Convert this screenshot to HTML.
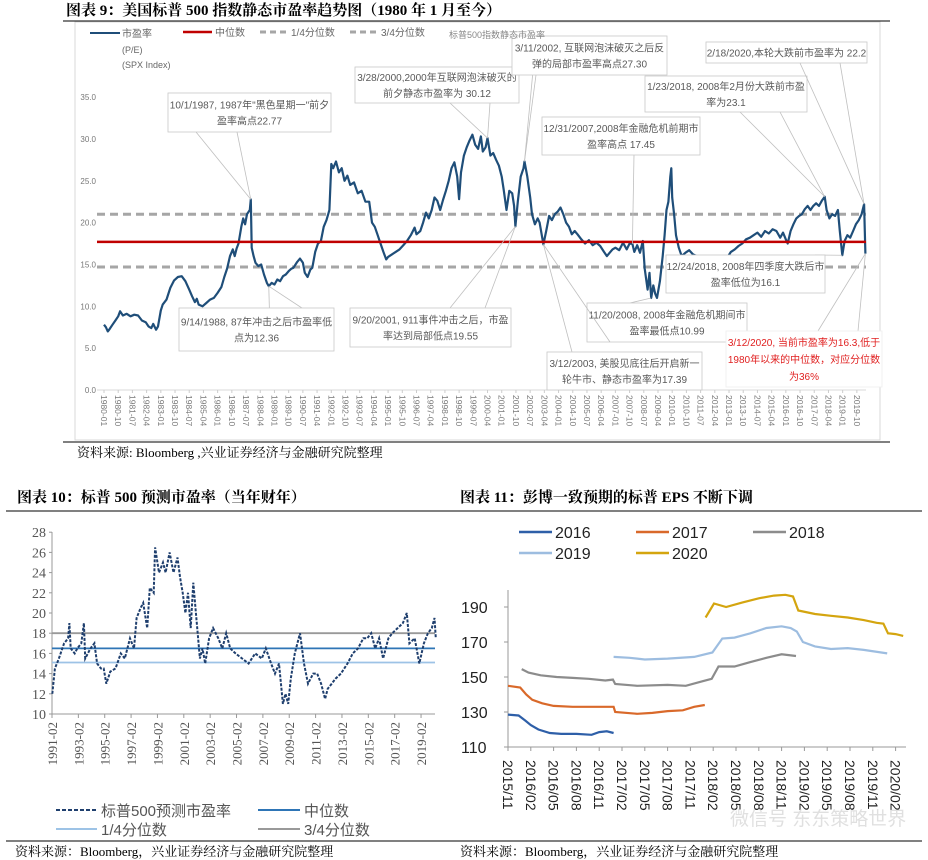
<!DOCTYPE html>
<html><head><meta charset="utf-8">
<style>
html,body{margin:0;padding:0;background:#fff;}
svg{display:block;}
.t{font-family:"Liberation Serif","Noto Serif CJK SC",serif;font-weight:bold;font-size:15px;fill:#000;}
.s{font-family:"Liberation Sans","Noto Sans CJK SC",sans-serif;}
.sr{font-family:"Liberation Serif","Noto Serif CJK SC",serif;}
</style></head>
<body>
<svg id="svg" width="928" height="860" viewBox="0 0 928 860" xmlns="http://www.w3.org/2000/svg">
<rect width="928" height="860" fill="#fff"/>
<text class="t" x="66" y="15">图表 9：美国标普 500 指数静态市盈率趋势图（1980 年 1 月至今）</text>
<line x1="63" y1="21" x2="890" y2="21" stroke="#000" stroke-width="1"/>
<rect x="75" y="22" width="805" height="418" fill="none" stroke="#d9d9d9" stroke-width="1"/>
<line x1="63" y1="442" x2="890" y2="442" stroke="#000" stroke-width="1"/>
<text class="sr" x="77" y="457" font-size="13">资料来源: Bloomberg ,兴业证券经济与金融研究院整理</text>
<g id="top"></g>
<g class="s" font-size="10" fill="#666">
 <line x1="90" y1="33" x2="120" y2="33" stroke="#1f4e79" stroke-width="2"/><text x="122" y="37">市盈率</text>
 <text x="122" y="53" font-size="9">(P/E)</text><text x="122" y="68" font-size="9">(SPX Index)</text>
 <line x1="183" y1="32" x2="212" y2="32" stroke="#c00000" stroke-width="2.5"/><text x="215" y="36">中位数</text>
 <line x1="260" y1="32" x2="288" y2="32" stroke="#a6a6a6" stroke-width="3" stroke-dasharray="6,4"/><text x="291" y="36">1/4分位数</text>
 <line x1="350" y1="32" x2="378" y2="32" stroke="#a6a6a6" stroke-width="3" stroke-dasharray="6,4"/><text x="381" y="36">3/4分位数</text>
 <text x="449" y="38" font-size="9" fill="#888">标普500指数静态市盈率</text>
</g>
<text class="t" x="17" y="502">图表 10：标普 500 预测市盈率（当年财年）</text>
<line x1="6" y1="511" x2="460" y2="511" stroke="#000"/>
<g id="bl"></g>
<g class="s" font-size="15" fill="#555">
 <line x1="56" y1="810" x2="97" y2="810" stroke="#1f3f6e" stroke-width="2" stroke-dasharray="4,2"/><text x="101" y="816">标普500预测市盈率</text>
 <line x1="258" y1="810" x2="300" y2="810" stroke="#2e75b6" stroke-width="2"/><text x="304" y="816">中位数</text>
 <line x1="56" y1="829" x2="97" y2="829" stroke="#9dc3e6" stroke-width="2"/><text x="101" y="835">1/4分位数</text>
 <line x1="258" y1="829" x2="300" y2="829" stroke="#999" stroke-width="2"/><text x="304" y="835">3/4分位数</text>
</g>
<line x1="6" y1="841" x2="460" y2="841" stroke="#000"/>
<text class="sr" x="15" y="856" font-size="13">资料来源：Bloomberg，兴业证券经济与金融研究院整理</text>
<text class="t" x="460" y="502">图表 11：彭博一致预期的标普 EPS 不断下调</text>
<line x1="460" y1="511" x2="922" y2="511" stroke="#000"/>
<g id="br"></g>
<line x1="460" y1="841" x2="922" y2="841" stroke="#000"/>
<text class="sr" x="460" y="856" font-size="13">资料来源：Bloomberg，兴业证券经济与金融研究院整理</text>
<text class="s" x="730" y="825" font-size="19" fill="#ccc" opacity="0.6">微信号 东东策略世界</text>
</svg>
<script>
const NS="http://www.w3.org/2000/svg";
function mk(p,tag,a,txt){const e=document.createElementNS(NS,tag);for(const k in a)e.setAttribute(k,a[k]);if(txt!==undefined)e.textContent=txt;p.appendChild(e);return e;}

const peDates=[1980.0,1980.1,1980.2,1980.3,1980.45,1980.6,1980.75,1980.85,1981.0,1981.2,1981.4,1981.6,1981.8,1982.0,1982.2,1982.35,1982.5,1982.6,1982.75,1982.85,1983.0,1983.1,1983.3,1983.5,1983.7,1983.9,1984.1,1984.3,1984.5,1984.65,1984.8,1984.9,1985.0,1985.2,1985.4,1985.6,1985.8,1986.0,1986.2,1986.35,1986.5,1986.65,1986.8,1986.9,1987.0,1987.1,1987.25,1987.35,1987.45,1987.55,1987.7,1987.75,1987.8,1987.9,1988.0,1988.15,1988.3,1988.45,1988.6,1988.7,1988.85,1989.0,1989.15,1989.3,1989.45,1989.6,1989.75,1989.9,1990.0,1990.2,1990.35,1990.5,1990.6,1990.75,1990.9,1991.0,1991.15,1991.3,1991.45,1991.6,1991.75,1991.9,1992.0,1992.1,1992.25,1992.4,1992.55,1992.7,1992.85,1993.0,1993.2,1993.4,1993.6,1993.8,1994.0,1994.15,1994.3,1994.45,1994.6,1994.75,1994.9,1995.0,1995.2,1995.4,1995.6,1995.8,1996.0,1996.2,1996.4,1996.5,1996.7,1996.85,1997.0,1997.15,1997.3,1997.45,1997.6,1997.75,1997.9,1998.05,1998.2,1998.35,1998.5,1998.65,1998.75,1998.85,1999.0,1999.15,1999.3,1999.45,1999.6,1999.75,1999.9,2000.0,2000.15,2000.25,2000.4,2000.55,2000.7,2000.85,2001.0,2001.1,2001.25,2001.4,2001.55,2001.65,2001.72,2001.85,2002.0,2002.15,2002.2,2002.35,2002.5,2002.6,2002.75,2002.9,2003.0,2003.2,2003.35,2003.5,2003.65,2003.8,2003.95,2004.1,2004.25,2004.4,2004.55,2004.7,2004.85,2005.0,2005.2,2005.4,2005.6,2005.8,2006.0,2006.2,2006.4,2006.55,2006.7,2006.85,2007.0,2007.2,2007.4,2007.6,2007.75,2007.9,2008.0,2008.15,2008.3,2008.45,2008.55,2008.7,2008.8,2008.89,2009.0,2009.1,2009.2,2009.35,2009.5,2009.6,2009.7,2009.8,2009.9,2009.95,2010.0,2010.1,2010.2,2010.35,2010.5,2010.7,2010.9,2011.1,2011.3,2011.5,2011.7,2011.9,2012.1,2012.3,2012.5,2012.7,2012.9,2013.1,2013.3,2013.5,2013.7,2013.9,2014.1,2014.3,2014.5,2014.7,2014.9,2015.1,2015.3,2015.5,2015.7,2015.85,2016.0,2016.1,2016.25,2016.4,2016.55,2016.7,2016.85,2017.0,2017.15,2017.3,2017.45,2017.6,2017.75,2017.9,2018.05,2018.15,2018.3,2018.45,2018.6,2018.75,2018.85,2018.98,2019.1,2019.25,2019.4,2019.55,2019.7,2019.85,2020.0,2020.13,2020.17,2020.2];
const peValues=[7.8,7.5,7.0,7.3,7.8,8.3,8.8,9.4,8.9,9.1,8.8,9.0,8.9,8.3,8.1,7.6,7.4,7.9,7.2,7.6,9.5,10.2,10.8,12.2,13.1,13.5,13.6,13.0,12.0,11.2,10.5,10.9,10.2,10.0,10.4,10.8,11.0,11.6,12.3,13.5,14.5,16.0,16.8,16.0,16.9,17.5,19.5,20.5,19.8,21.0,21.5,22.77,17.0,16.0,15.2,14.8,15.0,13.8,12.8,12.4,12.8,12.6,13.2,13.0,13.6,13.8,14.2,14.5,14.6,15.3,15.7,15.2,14.0,13.5,14.4,14.6,16.5,17.5,17.8,19.5,20.3,21.5,27.0,26.5,27.3,26.0,26.5,25.0,25.6,24.5,24.8,23.5,23.8,22.5,22.5,20.0,19.5,18.5,17.5,16.5,15.6,15.9,16.2,16.5,16.8,17.3,17.8,18.5,19.4,18.6,19.0,20.0,21.2,20.5,21.5,23.0,22.6,21.5,22.7,23.8,25.0,26.5,27.2,25.5,22.8,26.0,28.0,29.0,29.8,30.5,29.3,28.8,30.3,28.5,29.0,30.1,28.0,28.3,27.5,26.8,25.5,24.0,21.5,23.8,23.5,22.0,19.55,22.5,25.5,26.5,27.3,25.5,23.0,21.0,19.8,20.5,20.0,17.4,19.0,20.8,20.3,21.0,21.3,21.8,21.0,20.0,19.5,18.6,19.0,18.6,18.0,17.5,17.9,17.3,17.6,17.2,16.5,16.0,16.4,16.8,17.0,16.7,17.6,16.8,17.5,17.45,16.5,17.3,16.4,17.8,14.5,12.0,14.0,10.99,12.5,11.5,11.0,13.0,16.0,18.5,21.5,22.5,25.5,26.5,23.0,21.0,18.5,17.0,16.0,16.4,16.7,16.2,16.0,15.5,14.6,15.0,15.5,15.2,15.0,15.5,15.8,16.5,16.8,17.2,17.5,18.0,18.2,18.5,18.8,18.3,19.0,18.7,19.2,19.0,18.2,18.8,18.0,17.5,19.0,19.8,20.5,20.8,21.0,21.6,22.0,21.5,22.0,22.3,22.0,22.6,23.1,21.5,20.5,21.0,20.8,21.5,19.0,16.1,17.8,18.5,18.2,19.0,19.8,20.3,21.0,22.2,19.0,16.3];
const peMedian=17.7, peQ1=14.7, peQ3=21.0;
const peYTicks=[0,5,10,15,20,25,30,35];
const peXStartYear=1980, peXTickCount=54;

(function(){
 const g=document.getElementById('top');
 const x=d=>104+(d-1980)*18.94, y=v=>390-v*8.37;
 const xr=[97,866];
 peYTicks.forEach(v=>{const t=mk(g,'text',{x:96,y:y(v)+3,'text-anchor':'end','font-size':8,fill:'#777',class:'s'},v.toFixed(1));
  
  });
 mk(g,'line',{x1:xr[0],y1:y(0),x2:xr[1],y2:y(0),stroke:'#d9d9d9'});
 for(let i=0;i<peXTickCount;i++){const m=i*9;const yr=peXStartYear+Math.floor(m/12);const mo=m%12+1;const d=peXStartYear+m/12;
  const xx=x(d);
  mk(g,'line',{x1:xx,y1:y(0),x2:xx,y2:y(0)+3,stroke:'#ccc'});
  const t=mk(g,'text',{transform:`translate(${xx-3},${y(0)+5}) rotate(90)`,'font-size':8.5,fill:'#777',class:'s'},yr+'-'+String(mo).padStart(2,'0'));
  
  }
 [[peQ3,'#a6a6a6','q3-line'],[peQ1,'#a6a6a6','q1-line']].forEach(a=>{const l=mk(g,'line',{x1:xr[0],y1:y(a[0]),x2:xr[1],y2:y(a[0]),stroke:a[1],'stroke-width':3,'stroke-dasharray':'8,5'});
  
  });
 let p='';peDates.forEach((d,i)=>{p+=(i?'L':'M')+x(d).toFixed(1)+','+y(peValues[i]).toFixed(1);});
 const pl=mk(g,'path',{d:p,fill:'none',stroke:'#1f4e79','stroke-width':2.2,'stroke-linejoin':'round'});
 
 
 const ml=mk(g,'line',{x1:xr[0],y1:y(peMedian),x2:xr[1],y2:y(peMedian),stroke:'#c00000','stroke-width':2.5});
 
 
 const ann=[
  {b:[168,93,331,132],t:['10/1/1987, 1987年"黑色星期一"前夕','盈率高点22.77'],s:[[196,132],[237,132]],d:1987.75,v:22.77},
  {b:[355,67,519,103],t:['3/28/2000,2000年互联网泡沫破灭的','前夕静态市盈率为 30.12'],s:[[450,103],[490,103]],d:2000.25,v:30.1},
  {b:[512,36,667,75],t:['3/11/2002, 互联网泡沫破灭之后反','弹的局部市盈率高点27.30'],s:[[536,75],[534,60]],d:2002.2,v:27.3},
  {b:[542,117,700,155],t:['12/31/2007,2008年金融危机前期市','盈率高点 17.45'],s:[[634,155]],d:2007.9,v:17.45},
  {b:[645,76,807,112],t:['1/23/2018, 2008年2月份大跌前市盈','率为23.1'],s:[[740,112],[780,112]],d:2018.05,v:23.1},
  {b:[706,42,867,63],t:['2/18/2020,本轮大跌前市盈率为 22.2'],s:[[800,63],[840,63]],d:2020.13,v:22.2},
  {b:[179,308,334,351],t:['9/14/1988, 87年冲击之后市盈率低','点为12.36'],s:[[270,333],[308,312]],d:1988.7,v:12.4},
  {b:[350,308,511,347],t:['9/20/2001, 911事件冲击之后，市盈','率达到局部低点19.55'],s:[[450,308],[485,308]],d:2001.72,v:19.55},
  {b:[587,303,747,342],t:['11/20/2008, 2008年金融危机期间市','盈率最低点10.99'],s:[[630,303]],d:2008.89,v:10.99},
  {b:[547,352,702,390],t:['3/12/2003, 美股见底往后开启新一','轮牛市、静态市盈率为17.39'],s:[[572,352],[610,342]],d:2003.2,v:17.4},
  {b:[666,255,825,293],t:['12/24/2018, 2008年四季度大跌后市','盈率低位为16.1'],s:[[815,255]],d:2018.98,v:16.1},
  {b:[726,331,882,387],t:['3/12/2020, 当前市盈率为16.3,低于','1980年以来的中位数，对应分位数','为36%'],s:[[818,331],[858,331]],d:2020.2,v:16.3,red:1}
 ];
 ann.forEach(a=>{
  a.s.forEach(s=>mk(g,'line',{x1:s[0],y1:s[1],x2:x(a.d),y2:y(a.v),stroke:'#bfbfbf','stroke-width':0.8}));
  const r=mk(g,'rect',{x:a.b[0],y:a.b[1],width:a.b[2]-a.b[0],height:a.b[3]-a.b[1],fill:'#fff',stroke:a.red?'#eee':'#c8c8c8','stroke-width':0.8});
  
  
  const cx=(a.b[0]+a.b[2])/2,h=a.b[3]-a.b[1],n=a.t.length,lh=a.red?17:16;
  const y0=a.b[1]+h/2-(n-1)*lh/2+4;
  a.t.forEach((s,i)=>{const t=mk(g,'text',{x:cx,y:y0+i*lh,'text-anchor':'middle','font-size':10,fill:a.red?'#e02020':'#595959',class:'s'},s);
   
   });
 });
})();

const fpeDates=[1991.1,1991.3,1991.6,1992.0,1992.3,1992.4,1992.5,1992.8,1993.0,1993.3,1993.5,1993.6,1994.0,1994.3,1994.5,1994.8,1995.0,1995.2,1995.5,1995.9,1996.3,1996.6,1997.0,1997.3,1997.5,1997.8,1998.0,1998.3,1998.5,1998.8,1998.9,1999.2,1999.5,1999.7,2000.0,2000.3,2000.6,2000.8,2001.0,2001.2,2001.4,2001.6,2001.8,2002.0,2002.3,2002.5,2002.7,2003.0,2003.3,2003.7,2004.0,2004.3,2004.6,2005.0,2005.5,2006.0,2006.5,2007.0,2007.3,2007.7,2008.0,2008.3,2008.6,2008.8,2009.0,2009.2,2009.5,2009.8,2009.9,2010.2,2010.5,2010.9,2011.2,2011.5,2011.8,2012.0,2012.3,2012.6,2013.0,2013.5,2013.9,2014.3,2014.7,2015.0,2015.3,2015.6,2015.9,2016.2,2016.6,2016.9,2017.3,2017.7,2018.0,2018.2,2018.6,2018.95,2019.3,2019.6,2019.9,2020.1,2020.2];
const fpeValues=[12,14.5,15.5,17,17.5,19,16.5,16,16.5,17,19,15.5,16.5,17,15,14.5,14.5,13,14.2,14.5,16,15.5,17.5,16.5,19.5,20.5,21,18.5,22.5,22,26.5,24,25,24,26,24,25.5,23.5,22,20,22,18.5,23,20,15.5,16.5,15,17.5,18.5,17.5,16.5,18,16.5,16,15.5,15,16,15.5,16.5,15,14,15,11,12,11,13.5,16,17.5,18,15,13,14,14,13,11.5,12.5,13,13.5,14,15,16,16.5,17.5,17.5,18,16.5,17.5,15.5,17.5,18,18.5,19,20,17,17.5,15,17,18,18.5,19.5,17.5];
const fpeMedian=16.5, fpeQ1=15.1, fpeQ3=18.0;
const fpeYTicks=[10,12,14,16,18,20,22,24,26,28];
const fpeXTicks=['1991-02','1993-02','1995-02','1997-02','1999-02','2001-02','2003-02','2005-02','2007-02','2009-02','2011-02','2013-02','2015-02','2017-02','2019-02'];
(function(){
 const g=document.getElementById('bl');
 const x=d=>52+(d-1991.08)*13.18, y=v=>714-(v-10)*10.1;
 mk(g,'line',{x1:52,y1:532,x2:52,y2:714,stroke:'#999'});
 mk(g,'line',{x1:52,y1:714,x2:435,y2:714,stroke:'#999'});
 fpeYTicks.forEach(v=>{mk(g,'line',{x1:49,y1:y(v),x2:52,y2:y(v),stroke:'#999'});
  const t=mk(g,'text',{x:46,y:y(v)+5,'text-anchor':'end','font-size':14,fill:'#555',class:'sr'},v);
  
  });
 fpeXTicks.forEach((s,i)=>{const d=1991.08+i*2,xx=x(d);
  mk(g,'line',{x1:xx,y1:714,x2:xx,y2:718,stroke:'#999'});
  const t=mk(g,'text',{transform:`translate(${xx+5},${722}) rotate(-90)`,'text-anchor':'end','font-size':13,fill:'#555',class:'sr'},s);
  
  });
 [[fpeQ3,'#999','q3-line'],[fpeMedian,'#2e75b6','median-line'],[fpeQ1,'#9dc3e6','q1-line']].forEach(a=>{const l=mk(g,'line',{x1:52,y1:y(a[0]),x2:435,y2:y(a[0]),stroke:a[1],'stroke-width':1.8});
  
  });
 let p='';fpeDates.forEach((d,i)=>{p+=(i?'L':'M')+x(d).toFixed(1)+','+y(fpeValues[i]).toFixed(1);});
 const pl=mk(g,'path',{d:p,fill:'none',stroke:'#1f3f6e','stroke-width':2,'stroke-dasharray':'3,1.5'});
 
 
})();

const eps2016=[[0,128.5],[1.4,128],[2.3,125],[3,122.5],[4,120],[5.5,118],[7,117.5],[9,117.5],[11,117],[12,118.5],[13,119],[13.9,118]];
const eps2017=[[0,145],[1.6,144],[2.4,140],[3.2,137],[4.5,135],[6,133.5],[8.5,133],[11,133],[13.9,133],[14.1,130],[17,129],[19,129.5],[21,130.5],[23,131],[24.5,133],[25.9,134]];
const eps2018=[[1.8,154.5],[2.7,152.5],[4.3,151],[6.4,150],[8.5,149.5],[10.6,149],[12.8,148],[13.8,148.5],[14.1,146],[17,145],[21,145.5],[23.4,145],[25.5,147.5],[26.8,149],[27.7,156],[29.8,156],[31.9,158.5],[34,161],[36,163],[37.9,162]];
const eps2019=[[13.9,161.5],[16,161],[18,160],[21,160.5],[24.5,161.5],[26.9,164],[28.2,172],[29.8,172.5],[31.9,175],[34,178],[36,179],[37.2,178],[38,176],[38.8,170],[40.4,167.5],[42.5,166],[44.7,166.5],[46.8,165.5],[49.9,163.5]];
const eps2020=[[26,184],[27.1,192],[28.7,190],[30.8,192.5],[33,195],[35,196.5],[36.5,197],[37.5,196],[38.2,188],[40.4,186],[42.5,185],[44.7,184],[46.8,182.5],[48.5,181],[49.4,180.5],[50,175],[51,174.5],[52,173.5]];
const epsYTicks=[110,130,150,170,190];
const epsXTicks=['2015/11','2016/02','2016/05','2016/08','2016/11','2017/02','2017/05','2017/08','2017/11','2018/02','2018/05','2018/08','2018/11','2019/02','2019/05','2019/08','2019/11','2020/02'];
(function(){
 const g=document.getElementById('br');
 const x=t=>508+t*7.6, y=v=>747-(v-110)*1.75;
 mk(g,'line',{x1:508,y1:590,x2:508,y2:747,stroke:'#999'});
 mk(g,'line',{x1:508,y1:747,x2:906,y2:747,stroke:'#999'});
 epsYTicks.forEach(v=>{mk(g,'line',{x1:504,y1:y(v),x2:508,y2:y(v),stroke:'#999'});
  const t=mk(g,'text',{x:461,y:y(v)+6,'font-size':16,fill:'#222',class:'s'},v);
  
  });
 epsXTicks.forEach((s,i)=>{const xx=x(i*3);
  mk(g,'line',{x1:xx,y1:747,x2:xx,y2:751,stroke:'#999'});
  const t=mk(g,'text',{transform:`translate(${xx-5},${760}) rotate(90)`,'font-size':14,fill:'#222',class:'s'},s);
  
  });
 const series=[[eps2016,'#2e5fa8','2016'],[eps2017,'#d9692a','2017'],[eps2018,'#8c8c8c','2018'],[eps2019,'#9dbde0','2019'],[eps2020,'#d4a50f','2020']];
 series.forEach((s,i)=>{let p='';s[0].forEach((pt,j)=>{p+=(j?'L':'M')+x(pt[0]).toFixed(1)+','+y(pt[1]).toFixed(1);});
  const pl=mk(g,'path',{d:p,fill:'none',stroke:s[1],'stroke-width':2.2});
  
  
  const lx=519+(i%3)*117, ly=i<3?532:553;
  const ll=mk(g,'line',{x1:lx,y1:ly,x2:lx+33,y2:ly,stroke:s[1],'stroke-width':2.5});
  
  
  const lt=mk(g,'text',{x:lx+36,y:ly+6,'font-size':16,fill:'#222',class:'s'},s[2]);
  
  
 });
})();
</script>
</body></html>
